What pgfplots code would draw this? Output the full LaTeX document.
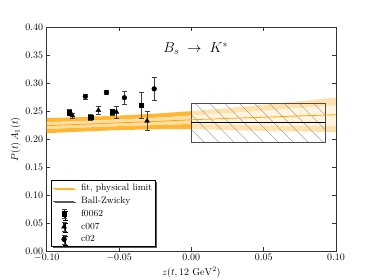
\documentclass[border=0pt]{standalone}
\usepackage{pgfplots}
\pgfplotsset{compat=1.18}
\usepackage{pgfplotstable}
\usepgfplotslibrary{fillbetween}
\usetikzlibrary{patterns.meta, shadows}
\definecolor{mplorange}{RGB}{255,165,0}

\pgfplotstableread{
z      uo     ui     li     lo     c
-0.100 0.2380 0.2305 0.2185 0.2110 0.2245
-0.075 0.2400 0.2330 0.2210 0.2140 0.2270
-0.050 0.2425 0.2355 0.2235 0.2165 0.2295
-0.025 0.2460 0.2385 0.2255 0.2180 0.2320
0.000  0.2505 0.2425 0.2275 0.2185 0.2350
0.025  0.2560 0.2465 0.2260 0.2165 0.2375
0.050  0.2620 0.2510 0.2245 0.2150 0.2395
0.075  0.2685 0.2560 0.2240 0.2140 0.2420
0.100  0.2750 0.2610 0.2235 0.2130 0.2440
}\band

\begin{document}
\begin{tikzpicture}
\begin{axis}[
  scale only axis, width=289bp, height=223bp,
  xmin=-0.1, xmax=0.1, ymin=0, ymax=0.4,
  xtick={-0.1,-0.05,0,0.05,0.1},
  ytick={0,0.05,0.1,0.15,0.2,0.25,0.3,0.35,0.4},
  xticklabel style={/pgf/number format/.cd, fixed, fixed zerofill, precision=2},
  yticklabel style={/pgf/number format/.cd, fixed, fixed zerofill, precision=2},
  scaled ticks=false,
  tick align=inside, xtick pos=both, ytick pos=both,
  major tick length=3.5bp,
  axis line style={black!80, line width=0.8pt},
  tick style={black!80, line width=0.6pt},
  xlabel={$z(t, 12\ \mathrm{GeV}^2)$},
  ylabel={$P(t)\,A_1(t)$},
  xlabel style={yshift=2bp},
  ylabel style={yshift=-2bp},
  legend style={at={(0.015,0.017)}, anchor=south west,
    font=\fontsize{9.3}{11}\selectfont, draw=black, line width=0.9pt,
    inner xsep=1pt, inner ysep=1.5pt, row sep=0.9pt,
    drop shadow={shadow xshift=1.6pt, shadow yshift=-1.6pt, fill=black!65, opacity=1},
    fill=white},
  legend cell align=left,
  legend image code/.code={\pgfpathmoveto{\pgfpoint{26bp}{0bp}}\pgfusepath{}\draw[#1] (0bp,0bp) -- (21bp,0bp);},
]
\addlegendimage{mplorange!85!white, line width=1pt}
\addlegendentry{fit, physical limit}
\addlegendimage{black!65, line width=1.1pt}
\addlegendentry{Ball-Zwicky}

% band boundaries
\addplot[draw=none, name path=uo, forget plot] table[x=z, y=uo]{\band};
\addplot[draw=none, name path=ui, forget plot] table[x=z, y=ui]{\band};
\addplot[draw=none, name path=li, forget plot] table[x=z, y=li]{\band};
\addplot[draw=none, name path=lo, forget plot] table[x=z, y=lo]{\band};
% left (fit region)
\addplot[fill=mplorange!80!white, draw=none, forget plot] fill between[of=uo and ui, soft clip={domain=-0.1:0}];
\addplot[fill=mplorange!35!white, draw=none, forget plot] fill between[of=ui and li, soft clip={domain=-0.1:0}];
\addplot[fill=mplorange!80!white, draw=none, forget plot] fill between[of=li and lo, soft clip={domain=-0.1:0}];
% right (extrapolation)
\addplot[fill=mplorange!32!white, draw=none, forget plot] fill between[of=uo and ui, soft clip={domain=0:0.1}];
\addplot[fill=mplorange!12!white, draw=none, forget plot] fill between[of=ui and li, soft clip={domain=0:0.1}];
\addplot[fill=mplorange!32!white, draw=none, forget plot] fill between[of=li and lo, soft clip={domain=0:0.1}];

% Ball-Zwicky box
\addplot[draw=black!70, line width=0.8pt, forget plot,
  pattern={Lines[angle=-45, distance=10.5bp, line width=0.35pt]}, pattern color=black!45]
  coordinates {(0,0.195) (0.0926,0.195) (0.0926,0.265) (0,0.265) (0,0.195)};

% central fit line
\addplot[mplorange, line width=0.8pt, forget plot] table[x=z, y=c]{\band};
% Ball-Zwicky central value
\addplot[black, line width=0.8pt, forget plot] coordinates {(0,0.2309) (0.0926,0.2309)};

\node at (axis cs:0.003,0.362) {\fontsize{14.5}{16}\selectfont $B_s\;\to\;K^*$};

% data
\addplot[only marks, mark=square*, mark size=2.3pt, black,
  error bars/.cd, y dir=both, y explicit,
  error bar style={black!75, line width=0.5pt},
  error mark options={rotate=90, mark size=2.5pt, black!75, line width=0.5pt},
  /pgfplots/legend image code/.code={
    \pgfpathmoveto{\pgfpoint{0bp}{0bp}}\pgfpathlineto{\pgfpoint{26bp}{0bp}}\pgfusepath{}
    \draw[black!75, line width=0.5pt] (11bp,-4.5bp) -- (11bp,4.5bp)
      (8.5bp,-4.5bp) -- (13.5bp,-4.5bp) (8.5bp,4.5bp) -- (13.5bp,4.5bp);
    \draw[black, line width=0.5pt, mark=square*, mark size=2.3pt] plot coordinates {(11bp,0bp)};}]
  coordinates {
  (-0.0846,0.2480) +- (0,0.0050)
  (-0.0696,0.2400) +- (0,0.0050)
  (-0.0548,0.2490) +- (0,0.0050)
  (-0.0347,0.2610) +- (0,0.0230)
  };
\addlegendentry{f0062}
\addplot[only marks, mark=triangle*, mark size=2.8pt, black,
  error bars/.cd, y dir=both, y explicit,
  error bar style={black!75, line width=0.5pt},
  error mark options={rotate=90, mark size=2.5pt, black!75, line width=0.5pt},
  /pgfplots/legend image code/.code={
    \pgfpathmoveto{\pgfpoint{0bp}{0bp}}\pgfpathlineto{\pgfpoint{26bp}{0bp}}\pgfusepath{}
    \draw[black!75, line width=0.5pt] (11bp,-4.5bp) -- (11bp,4.5bp)
      (8.5bp,-4.5bp) -- (13.5bp,-4.5bp) (8.5bp,4.5bp) -- (13.5bp,4.5bp);
    \draw[black, line width=0.5pt, mark=triangle*, mark size=2.8pt] plot coordinates {(11bp,0bp)};}]
  coordinates {
  (-0.0823,0.2427) +- (0,0.0045)
  (-0.0643,0.2520) +- (0,0.0075)
  (-0.0518,0.2490) +- (0,0.0105)
  (-0.0306,0.2330) +- (0,0.0170)
  };
\addlegendentry{c007}
\addplot[only marks, mark=*, mark size=2.4pt, black,
  error bars/.cd, y dir=both, y explicit,
  error bar style={black!75, line width=0.5pt},
  error mark options={rotate=90, mark size=2.5pt, black!75, line width=0.5pt},
  /pgfplots/legend image code/.code={
    \pgfpathmoveto{\pgfpoint{0bp}{0bp}}\pgfpathlineto{\pgfpoint{26bp}{0bp}}\pgfusepath{}
    \draw[black!75, line width=0.5pt] (11bp,-4.5bp) -- (11bp,4.5bp)
      (8.5bp,-4.5bp) -- (13.5bp,-4.5bp) (8.5bp,4.5bp) -- (13.5bp,4.5bp);
    \draw[black, line width=0.5pt, mark=*, mark size=2.4pt] plot coordinates {(11bp,0bp)};}]
  coordinates {
  (-0.0733,0.2768) +- (0,0.0045)
  (-0.0587,0.2840) +- (0,0.0036)
  (-0.0463,0.2745) +- (0,0.0125)
  (-0.0257,0.2905) +- (0,0.0200)
  };
\addlegendentry{c02}
\end{axis}
\pgfresetboundingbox
\path[use as bounding box] (-46.7bp,-29bp) rectangle (327bp,250.7bp);
\end{tikzpicture}
\end{document}
